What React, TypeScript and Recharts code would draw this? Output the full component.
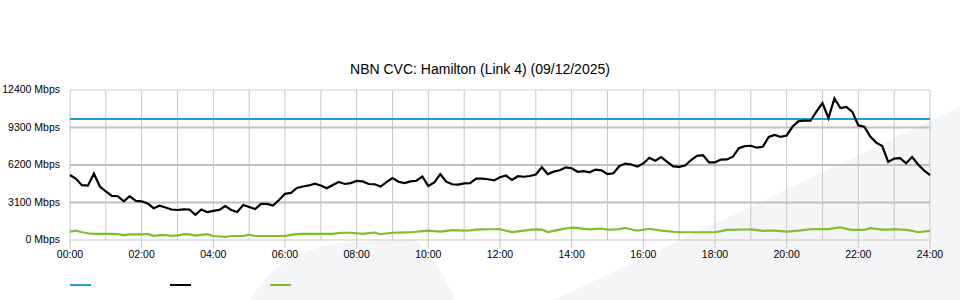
import React from 'react';
import { LineChart, Line, XAxis, YAxis, CartesianGrid, ReferenceLine } from 'recharts';

const TITLE = 'NBN CVC: Hamilton (Link 4) (09/12/2025)';
const STEP_MIN = 10;

const X_TICKS = [0, 120, 240, 360, 480, 600, 720, 840, 960, 1080, 1200, 1320, 1440];
const X_LABELS = ['00:00', '02:00', '04:00', '06:00', '08:00', '10:00', '12:00', '14:00', '16:00', '18:00', '20:00', '22:00', '24:00'];
const GRID_HOURS = [0, 60, 120, 180, 240, 300, 360, 420, 480, 540, 600, 660, 720, 780, 840, 900, 960, 1020, 1080, 1140, 1200, 1260, 1320, 1380, 1440];
const Y_TICKS = [0, 3100, 6200, 9300, 12400];

const CAPACITY = 10000;

// 10 minute samples, 00:00 -> 24:00
const TRAFFIC = [
  5370, 5060, 4530, 4490, 5490, 4420, 4010, 3650, 3620, 3190, 3620, 3240,
  3200, 3020, 2630, 2830, 2690, 2520, 2480, 2530, 2520, 2090, 2520, 2300,
  2410, 2490, 2810, 2480, 2320, 2890, 2730, 2560, 2980, 2980, 2850, 3300,
  3820, 3890, 4300, 4420, 4510, 4650, 4510, 4280, 4550, 4790, 4630, 4700,
  4880, 4840, 4630, 4610, 4420, 4780, 5120, 4820, 4700, 4840, 4900, 5240,
  4460, 4750, 5440, 4820, 4610, 4580, 4680, 4700, 5070, 5080, 5020, 4930,
  5190, 5330, 4960, 5270, 5230, 5290, 5410, 6010, 5450, 5650, 5770, 6000,
  5930, 5640, 5700, 5600, 5820, 5760, 5450, 5520, 6120, 6320, 6240, 6080,
  6330, 6800, 6560, 6850, 6450, 6090, 6040, 6150, 6610, 6960, 7010, 6420,
  6420, 6650, 6660, 6890, 7590, 7760, 7790, 7630, 7710, 8520, 8690, 8520,
  8640, 9380, 9830, 9870, 9860, 10630, 11320, 10080, 11700, 10910, 11000, 10590,
  9470, 9370, 8550, 8050, 7770, 6460, 6730, 6760, 6340, 6870, 6250, 5750,
  5370,
];

const BASELINE = [
  690, 770, 640, 560, 510, 500, 500, 500, 490, 410, 460, 460,
  470, 500, 340, 400, 410, 340, 380, 460, 460, 360, 430, 480,
  330, 290, 260, 330, 330, 330, 440, 330, 330, 330, 330, 330,
  330, 420, 480, 500, 500, 500, 500, 500, 500, 580, 600, 600,
  560, 500, 570, 620, 480, 540, 600, 610, 630, 640, 680, 730,
  770, 730, 690, 760, 820, 800, 770, 800, 850, 880, 890, 890,
  900, 760, 650, 710, 770, 830, 880, 860, 660, 760, 860, 950,
  1030, 1000, 920, 880, 920, 950, 860, 870, 900, 1000, 870, 770,
  850, 930, 850, 780, 740, 680, 650, 640, 640, 640, 640, 640,
  640, 740, 830, 840, 850, 870, 880, 820, 750, 770, 770, 730,
  700, 730, 770, 830, 890, 900, 900, 900, 980, 1050, 920, 830,
  830, 830, 980, 920, 860, 850, 900, 870, 840, 760, 640, 700,
  750,
];

const COLORS = { capacity: '#1e9ed8', traffic: '#000000', baseline: '#7fbf2a' };
const FONT = '"Liberation Sans", Arial, sans-serif';

const data = TRAFFIC.map((v, i) => ({
  m: i * STEP_MIN,
  capacity: CAPACITY,
  traffic: v,
  baseline: BASELINE[i],
}));

const YTick = (props: any) => {
  const { x, y, payload } = props;
  return (
    <text x={x} y={y} dy="0.3em" textAnchor="end" fill="#000" fontSize={10.5} fontFamily={FONT}>
      {`${payload.value} Mbps`}
    </text>
  );
};

const App: React.FC = () => {
  return (
    <div style={{ position: 'relative', width: 960, height: 300, fontFamily: FONT }}>
      <style>{'body{margin:0}'}</style>
      <svg width={960} height={300} style={{ position: 'absolute', left: 0, top: 0 }}>
        <path d="M 250 300 Q 280 248 350 242 L 415 240 Q 440 262 455 300 Z" fill="#f4f5f7" />
        <path d="M 554 300 L 960 107 L 960 300 Z" fill="#f4f5f7" />
      </svg>
      <div
        style={{
          position: 'absolute', left: 0, top: 61, width: 960, textAlign: 'center',
          fontSize: 14, color: '#000',
        }}
      >
        {TITLE}
      </div>
      <div style={{ position: 'absolute', left: 0, top: 0 }}>
        <LineChart width={960} height={300} data={data} margin={{ top: 90, right: 30, bottom: 30, left: 0 }}>
          <CartesianGrid horizontal={false} verticalValues={GRID_HOURS} stroke="#c8c8c8" />
          <ReferenceLine y={12400} stroke="#d0d0d0" />
          <ReferenceLine y={3100} stroke="#c0c0c0" strokeWidth={2} />
          <ReferenceLine y={6200} stroke="#c0c0c0" strokeWidth={2} />
          <ReferenceLine y={9300} stroke="#c0c0c0" strokeWidth={2} />
          <XAxis
            dataKey="m"
            type="number"
            domain={[0, 1440]}
            ticks={X_TICKS}
            tickFormatter={(m: number) => X_LABELS[X_TICKS.indexOf(m)]}
            stroke="#c8c8c8"
            tickSize={8}
            tickMargin={3}
            height={30}
            tick={{ fill: '#000', fontSize: 10.5, fontFamily: FONT }}
          />
          <YAxis
            type="number"
            domain={[0, 12400]}
            ticks={Y_TICKS}
            axisLine={false}
            tickLine={false}
            tickSize={0}
            tickMargin={10}
            width={70}
            tick={<YTick />}
          />
          <Line dataKey="capacity" stroke={COLORS.capacity} strokeWidth={2} dot={false} isAnimationActive={false} />
          <Line dataKey="traffic" stroke={COLORS.traffic} strokeWidth={2.2} dot={false} isAnimationActive={false} />
          <Line dataKey="baseline" stroke={COLORS.baseline} strokeWidth={2.2} dot={false} isAnimationActive={false} />
        </LineChart>
      </div>
      <div style={{ position: 'absolute', left: 70, top: 284, display: 'flex' }}>
        {[COLORS.capacity, COLORS.traffic, COLORS.baseline].map((c) => (
          <div key={c} style={{ width: 21, height: 2, background: c, marginRight: 79 }} />
        ))}
      </div>
    </div>
  );
};

export default App;
